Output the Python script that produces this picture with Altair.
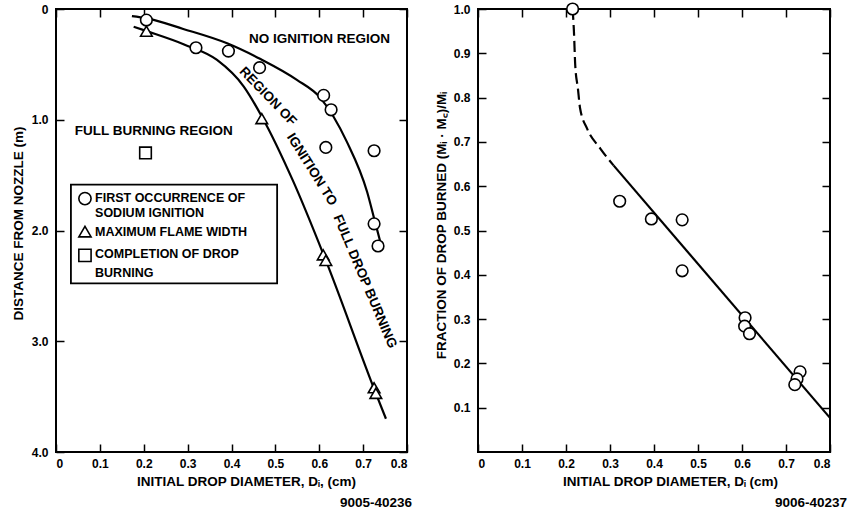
import altair as alt
import pandas as pd

FONT = "Liberation Sans"

# ---------------- left panel data ----------------
ign_x = [0.206, 0.319, 0.393, 0.464, 0.610, 0.627, 0.615, 0.725, 0.725, 0.734]
ign_y = [0.10, 0.35, 0.38, 0.53, 0.78, 0.91, 1.25, 1.28, 1.94, 2.14]
flame_x = [0.206, 0.469, 0.609, 0.615, 0.725, 0.729]
flame_y = [0.20, 0.99, 2.22, 2.27, 3.42, 3.47]
comp_x = [0.204]
comp_y = [1.30]

upper_x = [0.173, 0.207, 0.290, 0.390, 0.465, 0.549, 0.602, 0.663, 0.709, 0.727, 0.743]
upper_y = [0.065, 0.085, 0.18, 0.31, 0.45, 0.64, 0.80, 1.20, 1.65, 1.92, 2.16]
lower_x = [0.177, 0.207, 0.292, 0.367, 0.428, 0.469, 0.540, 0.613, 0.727, 0.752]
lower_y = [0.16, 0.20, 0.32, 0.46, 0.70, 0.97, 1.55, 2.25, 3.45, 3.70]

# ---------------- right panel data ----------------
frac_x = [0.215, 0.322, 0.394, 0.464, 0.464, 0.607, 0.606, 0.617, 0.732, 0.725, 0.720]
frac_y = [1.00, 0.566, 0.526, 0.524, 0.409, 0.303, 0.284, 0.267, 0.181, 0.165, 0.152]
dash_x = [0.215, 0.218, 0.221, 0.227, 0.232, 0.248, 0.278, 0.308]
dash_y = [1.00, 0.95, 0.873, 0.821, 0.776, 0.730, 0.685, 0.647]
fit_x = [0.308, 0.800]
fit_y = [0.647, 0.077]

# ---------------- ticks / labels ----------------
x_ticks = [0, 0.1, 0.2, 0.3, 0.4, 0.5, 0.6, 0.7, 0.8]
left_y_ticks = [0, 1, 2, 3, 4]
right_y_ticks = [0.1, 0.2, 0.3, 0.4, 0.5, 0.6, 0.7, 0.8, 0.9, 1.0]

# annotation text (left panel, data coordinates)
region_text = ["NO IGNITION REGION", "FULL BURNING REGION"]
region_x = [0.44, 0.043]
region_y = [0.27, 1.10]
band_text = ["REGION OF", "IGNITION TO", "FULL DROP BURNING"]
band_x = [0.483, 0.583, 0.704]
band_y = [0.79, 1.45, 2.46]
band_angle = [46, 58, 67]

legend_sym = ["circle", "triangle-up", "square"]
legend_sym_x = [0.066, 0.066, 0.066]
legend_sym_y = [1.712, 2.01, 2.225]
legend_text = ["FIRST OCCURRENCE OF", "SODIUM IGNITION", "MAXIMUM FLAME WIDTH",
               "COMPLETION OF DROP", "BURNING"]
legend_text_y = [1.705, 1.840, 2.01, 2.213, 2.380]
legend_text_x = 0.089
legend_box = dict(x=0.034, x2=0.504, y=1.586, y2=2.477)

W_L, W_R, H = 351, 352, 443
TXT = 13.5
LEG = 12.5

lbl = dict(labelFont=FONT, labelFontSize=12, labelFontWeight="bold", labelColor="black",
           titleFont=FONT, titleFontSize=TXT, titleFontWeight="bold", titleColor="black",
           tickColor="black", tickWidth=1.5, tickSize=8, offset=-8, domain=False, grid=False)

x_scale = alt.Scale(domain=[0, 0.8], nice=False, zero=False)
yl_scale = alt.Scale(domain=[0, 4], nice=False, zero=False, reverse=True)
yr_scale = alt.Scale(domain=[0, 1], nice=False, zero=False)

xlabel_expr = "datum.value == 0 ? '0' : format(datum.value, '.1f')"


def frame_axes(xs, ys, y_scale, y_vals):
    d = pd.DataFrame({"x": [xs[0]], "y": [ys[0]]})
    return alt.Chart(d).mark_point(opacity=0).encode(
        x=alt.X("x:Q", scale=x_scale,
                axis=alt.Axis(orient="top", values=x_ticks, labels=False, title=None, **lbl)),
        y=alt.Y("y:Q", scale=y_scale,
                axis=alt.Axis(orient="right", values=y_vals, labels=False, title=None, **lbl)),
    )


# ================= LEFT PANEL =================
curves = pd.concat([
    pd.DataFrame({"x": upper_x, "y": upper_y, "c": "upper", "o": range(len(upper_x))}),
    pd.DataFrame({"x": lower_x, "y": lower_y, "c": "lower", "o": range(len(lower_x))}),
])
left_lines = alt.Chart(curves).mark_line(color="black", strokeWidth=2.2, interpolate="monotone").encode(
    x=alt.X("x:Q", scale=x_scale,
            axis=alt.Axis(orient="bottom", values=x_ticks, labelExpr=xlabel_expr, labelPadding=6,
                          title="INITIAL DROP DIAMETER, Dᵢ, (cm)", titlePadding=5, titleX=190, **lbl)),
    y=alt.Y("y:Q", scale=yl_scale,
            axis=alt.Axis(orient="left", values=left_y_ticks, labelExpr=xlabel_expr, labelPadding=8,
                          title="DISTANCE FROM NOZZLE (m)", titleX=-46, titleY=214,
                          titleAlign="center", titleBaseline="middle", **lbl)),
    detail="c:N", order="o:Q",
)

pts_left = pd.concat([
    pd.DataFrame({"x": ign_x, "y": ign_y, "s": "ign"}),
    pd.DataFrame({"x": flame_x, "y": flame_y, "s": "flame"}),
    pd.DataFrame({"x": comp_x, "y": comp_y, "s": "comp"}),
])
left_pts = alt.Chart(pts_left).mark_point(filled=True, fill="white", stroke="black",
                                          strokeWidth=1.6, size=135, opacity=1).encode(
    x=alt.X("x:Q", scale=x_scale, axis=None),
    y=alt.Y("y:Q", scale=yl_scale, axis=None),
    shape=alt.Shape("s:N", scale=alt.Scale(domain=["ign", "flame", "comp"],
                                           range=["circle", "triangle-up", "square"]), legend=None),
)

txt_style = dict(font=FONT, fontSize=TXT, fontWeight="bold", color="black")
leg_style = dict(font=FONT, fontSize=LEG, fontWeight="bold", color="black")

region_df = pd.DataFrame({"x": region_x, "y": region_y, "t": region_text})
left_region = alt.Chart(region_df).mark_text(align="left", baseline="middle", **txt_style).encode(
    x=alt.X("x:Q", scale=x_scale, axis=None), y=alt.Y("y:Q", scale=yl_scale, axis=None), text="t:N")

band_df = pd.DataFrame({"x": band_x, "y": band_y, "t": band_text})
band_layers = [
    alt.Chart(band_df.iloc[[i]]).mark_text(align="center", baseline="middle", angle=band_angle[i], **txt_style).encode(
        x=alt.X("x:Q", scale=x_scale, axis=None), y=alt.Y("y:Q", scale=yl_scale, axis=None), text="t:N")
    for i in range(len(band_text))
]

box_df = pd.DataFrame([legend_box])
legend_rect = alt.Chart(box_df).mark_rect(fill="white", stroke="black", strokeWidth=1.8).encode(
    x=alt.X("x:Q", scale=x_scale, axis=None), x2="x2:Q",
    y=alt.Y("y:Q", scale=yl_scale, axis=None), y2="y2:Q")

leg_sym_df = pd.DataFrame({"x": legend_sym_x, "y": legend_sym_y, "s": legend_sym})
legend_syms = alt.Chart(leg_sym_df).mark_point(filled=True, fill="white", stroke="black",
                                               strokeWidth=1.6, size=150, opacity=1).encode(
    x=alt.X("x:Q", scale=x_scale, axis=None),
    y=alt.Y("y:Q", scale=yl_scale, axis=None),
    shape=alt.Shape("s:N", scale=None, legend=None),
)
leg_txt_df = pd.DataFrame({"x": [legend_text_x] * len(legend_text), "y": legend_text_y, "t": legend_text})
legend_txt = alt.Chart(leg_txt_df).mark_text(align="left", baseline="middle", **leg_style).encode(
    x=alt.X("x:Q", scale=x_scale, axis=None), y=alt.Y("y:Q", scale=yl_scale, axis=None), text="t:N")

code_left = alt.Chart(pd.DataFrame({"x": [0.8], "t": ["9005-40236"]})).mark_text(
    align="right", baseline="middle", dx=5, **txt_style).encode(
    x=alt.X("x:Q", scale=x_scale, axis=None), y=alt.value(494), text="t:N")

left = alt.layer(
    left_lines, legend_rect, legend_syms, legend_txt, left_pts, left_region, *band_layers, code_left,
    frame_axes(ign_x, ign_y, yl_scale, left_y_ticks),
).resolve_axis(x="independent", y="independent").properties(width=W_L, height=H)

# ================= RIGHT PANEL =================
fit_df = pd.DataFrame({"x": fit_x, "y": fit_y})
dash_df = pd.DataFrame({"x": dash_x, "y": dash_y, "o": range(len(dash_x))})

right_fit = alt.Chart(fit_df).mark_line(color="black", strokeWidth=2.2).encode(
    x=alt.X("x:Q", scale=x_scale,
            axis=alt.Axis(orient="bottom", values=x_ticks, labelExpr=xlabel_expr, labelPadding=6,
                          title="INITIAL DROP DIAMETER, Dᵢ (cm)", titlePadding=5, titleX=192, **lbl)),
    y=alt.Y("y:Q", scale=yr_scale,
            axis=alt.Axis(orient="left", values=right_y_ticks, format=".1f", labelPadding=8,
                          title="FRACTION OF DROP BURNED (Mᵢ · M꜀)/Mᵢ", titleX=-45, titleY=216,
                          titleAlign="center", titleBaseline="middle", **lbl)),
)
right_dash = alt.Chart(dash_df).mark_line(color="black", strokeWidth=2.2, strokeDash=[11, 5],
                                          interpolate="monotone").encode(
    x=alt.X("x:Q", scale=x_scale, axis=None), y=alt.Y("y:Q", scale=yr_scale, axis=None), order="o:Q")

right_pts = alt.Chart(pd.DataFrame({"x": frac_x, "y": frac_y})).mark_point(
    shape="circle", filled=True, fill="white", stroke="black", strokeWidth=1.6, size=135, opacity=1).encode(
    x=alt.X("x:Q", scale=x_scale, axis=None), y=alt.Y("y:Q", scale=yr_scale, axis=None))

code_right = alt.Chart(pd.DataFrame({"x": [0.8], "t": ["9006-40237"]})).mark_text(
    align="right", baseline="middle", dx=17, **txt_style).encode(
    x=alt.X("x:Q", scale=x_scale, axis=None), y=alt.value(494), text="t:N")

right = alt.layer(
    right_fit, right_dash, right_pts, code_right,
    frame_axes(frac_x, frac_y, yr_scale, right_y_ticks),
).resolve_axis(x="independent", y="independent").properties(width=W_R, height=H)

chart = alt.hconcat(left, right, spacing=20).properties(
    padding={"left": 10, "top": -2, "right": 0, "bottom": 0},
    background="white",
).configure_view(stroke="black", strokeWidth=2)

chart.save("out.html", embed_options={"renderer": "svg", "actions": False})
